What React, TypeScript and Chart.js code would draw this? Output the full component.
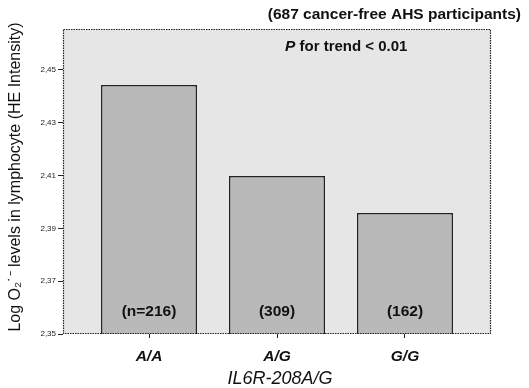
import React, { useEffect, useRef } from "react";
import { Chart, registerables } from "chart.js";

Chart.register(...registerables);

const CATEGORIES = ["A/A", "A/G", "G/G"];
const VALUES = [2.4443, 2.4098, 2.3958];
const COUNTS = ["(n=216)", "(309)", "(162)"];
const Y_TICKS = [2.35, 2.37, 2.39, 2.41, 2.43, 2.45];
const Y_MIN = 2.35;
const Y_MAX = 2.4655;
const TITLE = "(687 cancer-free AHS participants)";
const TREND = ["P", " for trend < 0.01"];
const X_TITLE = "IL6R-208A/G";
const Y_TITLE = "Log O\u2082\u02D9\u207B levels in lymphocyte (HE Intensity)";

const FONT = "'Liberation Sans', Arial, sans-serif";

const textPlugin = {
  id: "texts",
  beforeDraw(chart: any) {
    const { ctx, chartArea: a } = chart;
    ctx.save();
    ctx.fillStyle = "#e6e6e6";
    ctx.fillRect(a.left, a.top, a.right - a.left, a.bottom - a.top);
    ctx.restore();
  },
  afterDraw(chart: any) {
    const { ctx, chartArea: a } = chart;
    const xs = chart.scales.x;
    ctx.save();
    // dotted frame
    ctx.strokeStyle = "#222";
    ctx.lineWidth = 1.2;
    ctx.setLineDash([1.5, 1]);
    ctx.strokeRect(a.left + 0.5, a.top + 0.5, a.right - a.left - 1, a.bottom - a.top - 1);
    ctx.setLineDash([]);
    ctx.fillStyle = "#111";
    // top title
    ctx.font = `bold 15.5px ${FONT}`;
    ctx.textAlign = "right";
    ctx.textBaseline = "middle";
    ctx.fillText(TITLE, 521, 15);
    // trend text
    ctx.textAlign = "left";
    ctx.font = `italic bold 15.5px ${FONT}`;
    const px = 285;
    ctx.fillText(TREND[0], px, 47);
    const w = ctx.measureText(TREND[0]).width;
    ctx.font = `bold 15px ${FONT}`;
    ctx.fillText(TREND[1], px + w, 47);
    // counts
    ctx.textAlign = "center";
    ctx.font = `bold 15.5px ${FONT}`;
    COUNTS.forEach((c, i) => {
      ctx.fillText(c, xs.getPixelForValue(i), 312);
    });
    // x title
    ctx.font = `italic 18px ${FONT}`;
    ctx.fillText(X_TITLE, 280, 379);
    // y title
    ctx.translate(16, 177);
    ctx.rotate(-Math.PI / 2);
    ctx.font = `16px ${FONT}`;
    ctx.fillText(Y_TITLE, 0, 0);
    ctx.restore();
  },
};

export default function App() {
  const ref = useRef<HTMLCanvasElement>(null);
  useEffect(() => {
    document.body.style.margin = "0";
    const chart = new Chart(ref.current!, {
      type: "bar",
      data: {
        datasets: [
          {
            data: VALUES.map((v, i) => ({ x: i, y: v })),
            backgroundColor: "#b9b9b9",
            borderColor: "#222",
            borderWidth: 1.5,
            categoryPercentage: 1,
            barPercentage: 0.75,
          },
        ],
      },
      options: {
        responsive: false,
        animation: false,
        layout: { padding: { top: 29, right: 38, left: 0, bottom: 0 } },
        plugins: { legend: { display: false }, tooltip: { enabled: false } },
        scales: {
          x: {
            type: "linear",
            offset: false,
            min: -0.672,
            max: 2.672,
            afterBuildTicks: (s: any) => {
              s.ticks = CATEGORIES.map((_, i) => ({ value: i }));
            },
            afterFit: (s: any) => {
              s.height = 54;
            },
            grid: { display: true, offset: false, drawOnChartArea: false, tickLength: 4, color: "#222" },
            border: { display: false },
            ticks: {
              padding: 9,
              color: "#111",
              font: { family: FONT, size: 15.5, style: "italic", weight: "bold" },
              callback: (v: any) => CATEGORIES[v as number] ?? "",
            },
          },
          y: {
            min: Y_MIN,
            max: Y_MAX,
            afterBuildTicks: (s: any) => {
              s.ticks = Y_TICKS.map((v) => ({ value: v }));
            },
            afterFit: (s: any) => {
              s.width = 63;
            },
            grid: { display: true, drawOnChartArea: false, tickLength: 5, color: "#222" },
            border: { display: false },
            ticks: {
              padding: 2,
              color: "#222",
              font: { family: FONT, size: 8 },
              callback: (v: any) => Number(v).toFixed(2).replace(".", ","),
            },
          },
        },
      },
      plugins: [textPlugin],
    });
    return () => chart.destroy();
  }, []);
  return <canvas ref={ref} width={529} height={388} />;
}
